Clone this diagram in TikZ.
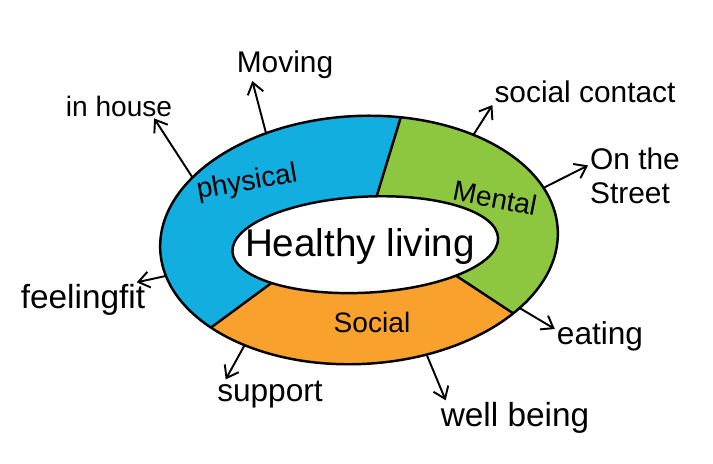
\documentclass[tikz,border=0pt]{standalone}
\usepackage{fontspec}
\setmainfont{Liberation Sans}
\usetikzlibrary{arrows.meta}
\definecolor{physblue}{HTML}{12AEE0}
\definecolor{mentgreen}{HTML}{8DC63F}
\definecolor{socorange}{HTML}{F8A12C}
\tikzset{
  ring/.style={draw=black, line width=1.4pt},
  seg/.style={font=\fontsize{16}{18}\selectfont, inner sep=1pt},
  lbl/.style={font=\fontsize{17}{19}\selectfont, inner sep=1pt},
  title/.style={font=\fontsize{22}{24}\selectfont, inner sep=1pt},
  link/.style={-{Straight Barb[length=2.2mm,width=3.2mm]}, line width=1.1pt, draw=black},
}

\begin{document}
\begin{tikzpicture}[x=0.02cm, y=0.02cm]
  \useasboundingbox (0,0) rectangle (713,463);

  \begin{scope}[shift={(359,223)}, rotate=3]
    \fill[physblue] (76:199 and 124) arc[start angle=76, end angle=220, x radius=199, y radius=124]
      -- ([shift={(6,-5)}]224:133 and 48) arc[start angle=224, end angle=84, x radius=133, y radius=48] -- cycle;
    \fill[mentgreen] (76:199 and 124) arc[start angle=76, end angle=-41, x radius=199, y radius=124]
      -- ([shift={(6,-5)}]-48:133 and 48) arc[start angle=-48, end angle=84, x radius=133, y radius=48] -- cycle;
    \fill[socorange] (-41:199 and 124) arc[start angle=-41, end angle=-140, x radius=199, y radius=124]
      -- ([shift={(6,-5)}]-136:133 and 48) arc[start angle=-136, end angle=-48, x radius=133, y radius=48] -- cycle;

    \draw[ring] (0,0) ellipse [x radius=199, y radius=124];
    \draw[ring] (6,-5) ellipse [x radius=133, y radius=48];
    \draw[ring] (76:199 and 124) -- ([shift={(6,-5)}]84:133 and 48);
    \draw[ring] (-41:199 and 124) -- ([shift={(6,-5)}]-48:133 and 48);
    \draw[ring] (220:199 and 124) -- ([shift={(6,-5)}]224:133 and 48);

    \coordinate (a-mov) at (116:199 and 124);
    \coordinate (a-house) at (145:199 and 124);
    \coordinate (a-contact) at (53:199 and 124);
    \coordinate (a-street) at (20:199 and 124);
    \coordinate (a-eat) at (-38:199 and 124);
    \coordinate (a-well) at (-72:199 and 124);
    \coordinate (a-supp) at (233:199 and 124);
    \coordinate (a-fit) at (192:199 and 124);
  \end{scope}

  \node[title] (healthy) at (360,216) {Healthy living};
  \node[seg, rotate=10] (phys) at (247,280) {physical};
  \node[seg, rotate=-11] (ment) at (495,265) {Mental};
  \node[seg] (soc) at (372,141) {Social};

  \node[lbl] (moving) at (285,398) {Moving};
  \node[lbl, font=\fontsize{16}{18}\selectfont] (inhouse) at (119,357) {in house};
  \node[lbl] (contact) at (585,371) {social contact};
  \node[lbl, align=left] (street) at (635,287) {On the\\Street};
  \node[lbl, font=\fontsize{18}{20}\selectfont] (eating) at (600,127) {eating};
  \node[lbl, font=\fontsize{19}{21}\selectfont] (wellbeing) at (515,45) {well being};
  \node[lbl, font=\fontsize{18}{20}\selectfont] (support) at (270,68) {support};
  \node[lbl, font=\fontsize{19}{21}\selectfont] (feelfit) at (83,163) {feelingfit};

  \draw[link] (a-mov) -- ([xshift=10pt]moving.south west);
  \draw[link] (a-house) -- ([xshift=20pt]inhouse.south);
  \draw[link] (a-contact) -- (contact.south west);
  \draw[link] (a-street) -- ([yshift=6pt]street.west);
  \draw[link] (a-eat) -- ([yshift=4pt]eating.west);
  \draw[link] (a-well) -- ([xshift=4pt]wellbeing.north west);
  \draw[link] (a-supp) -- ([xshift=6pt]support.north west);
  \draw[link] (a-fit) -- ([xshift=-6pt]feelfit.north east);
\end{tikzpicture}
\end{document}
